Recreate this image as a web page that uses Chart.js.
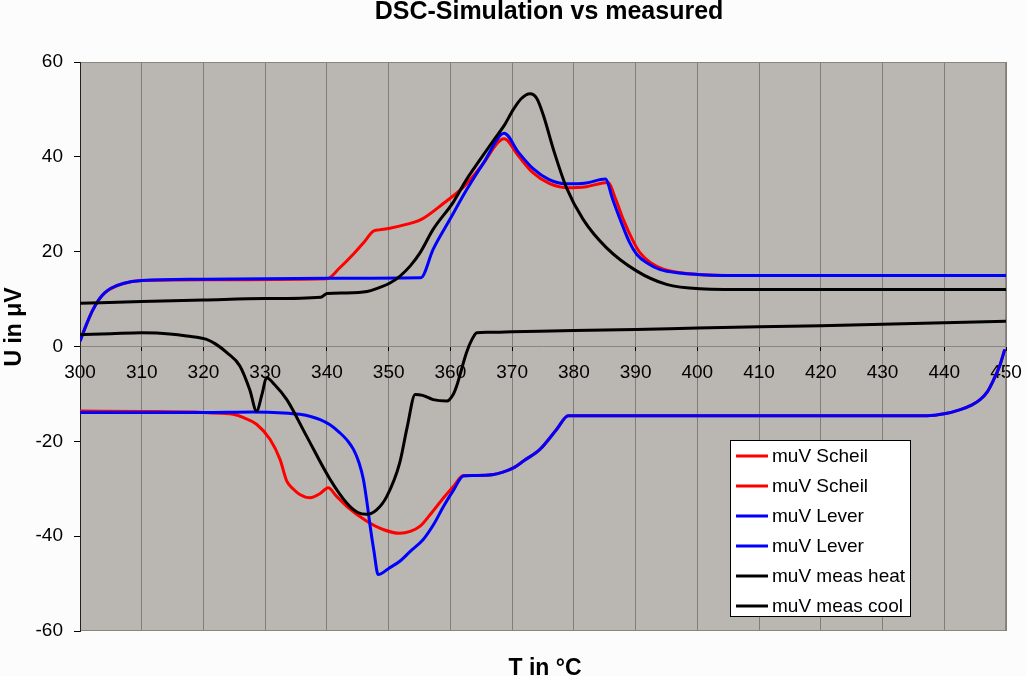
<!DOCTYPE html>
<html>
<head>
<meta charset="utf-8">
<script src="https://cdn.jsdelivr.net/npm/chart.js@4.4.1/dist/chart.umd.min.js"></script>
<style>
  html, body { margin: 0; padding: 0; background: #fcfcfc; }
  canvas { display: block; }
</style>
</head>
<body>
<canvas id="dsc" width="1026" height="676"></canvas>
<script>
// values: temperature (°C) and signal (µV) per series
const scheilHeatT = [300, 301, 302, 303, 304, 305, 307, 310, 320, 340, 342, 344.3, 346, 347.5, 348.5, 350, 353, 355.3, 358.9, 362.1, 365, 368.7, 371, 373.4, 376, 378.8, 382, 385.5, 386.8, 388, 389.5, 390.7, 392.5, 394.5, 397, 400, 405, 450];
const scheilHeatU = [1.1, 4.5, 7.5, 9.8, 11.3, 12.2, 13.3, 13.9, 14.1, 14.3, 16.5, 19.5, 22, 24.3, 24.6, 24.9, 25.8, 26.8, 30.2, 33.6, 38, 43.8, 40.2, 36.6, 34.4, 33.5, 33.7, 34.6, 31, 26.8, 22.5, 19.8, 17.6, 16.3, 15.6, 15.2, 15, 15];

const scheilCoolT = [300, 310, 320, 323, 324.8, 326.5, 328.6, 330.8, 332.4, 333.5, 334.5, 335.6, 337.3, 338.9, 340.2, 341.5, 343.2, 346.4, 349.1, 351.8, 353.5, 355.1, 357, 358.9, 360.5, 362.1, 363.7, 367, 368.5, 370.2, 372, 374.5, 377.2, 379.1, 385, 400, 420, 437.2, 440, 442.6, 444.5, 445.8, 447, 448, 449, 449.8];
const scheilCoolU = [-13.6, -13.7, -13.9, -14.1, -14.3, -15, -16.4, -19.6, -23.8, -28.4, -30, -31.2, -31.9, -31, -29.8, -31.5, -33.7, -36.8, -38.6, -39.4, -39, -37.9, -35, -31.9, -29.5, -27.2, -27.2, -27, -26.5, -25.6, -24, -21.7, -17.5, -14.6, -14.6, -14.6, -14.6, -14.6, -14.2, -13.3, -12.3, -11.2, -9.5, -7, -4, -0.6];

const leverHeatT = [300, 301, 302, 303, 304, 305, 307, 310, 320, 340, 355.2, 357.2, 360, 362.6, 365.5, 368.7, 371, 373.4, 376, 378.8, 382, 385.1, 386.3, 387.5, 389, 390.2, 392, 394, 397, 400, 405, 450];
const leverHeatU = [1.1, 4.5, 7.5, 9.8, 11.3, 12.3, 13.3, 13.9, 14.2, 14.4, 14.5, 20.5, 27, 33, 39, 45, 41, 37.5, 35.2, 34.3, 34.5, 35.3, 31, 26.8, 22, 19.4, 17.5, 16.2, 15.5, 15.2, 15, 15];

const leverCoolT = [300, 320, 328, 333, 335.6, 337.5, 338.9, 340.5, 342.1, 343.3, 344.3, 345.2, 345.9, 346.5, 347, 347.6, 348.3, 350, 351.8, 353.5, 355.6, 357.3, 358.9, 360.5, 362.1, 363.7, 367, 368.5, 370.2, 372, 374.5, 377.2, 379.1, 385, 400, 420, 437.2, 440, 442.6, 444.5, 445.8, 447, 448, 449, 449.8];
const leverCoolU = [-13.9, -13.9, -13.8, -14, -14.3, -14.8, -15.4, -16.5, -18.2, -19.8, -21.7, -24.5, -28, -33, -37.9, -43, -48.1, -46.8, -45.3, -43.2, -40.7, -37.5, -33.7, -30.3, -27.3, -27.2, -27, -26.5, -25.6, -24, -21.7, -17.5, -14.6, -14.6, -14.6, -14.6, -14.6, -14.2, -13.3, -12.3, -11.2, -9.5, -7, -4, -0.6];

const measHeatT = [300, 310, 320, 330, 339, 340, 343, 346.5, 348, 350.2, 351.8, 353.5, 355.1, 357.2, 360.5, 362.6, 364.8, 367, 368.8, 370.2, 371.5, 372.9, 374, 375.1, 376.7, 378.8, 381.5, 385.3, 390.2, 395, 400.4, 410, 450];
const measHeatU = [9.1, 9.5, 9.8, 10.1, 10.4, 11.2, 11.3, 11.6, 12.2, 13.4, 14.8, 17, 19.8, 24.7, 30.5, 35.2, 39.4, 43.5, 46.8, 50, 52.3, 53.3, 52.3, 48.6, 41.5, 33.5, 26.8, 20.8, 15.9, 13.1, 12.2, 12, 12];

const measCoolT = [300, 305, 310, 315, 317.3, 320.5, 322, 323.8, 325.9, 327.5, 328.6, 329.5, 330.2, 331.5, 333.5, 336.7, 340.5, 343.2, 345, 346.4, 348, 349.7, 351.8, 353, 354.3, 355.5, 357.2, 359.4, 360.5, 361, 362.6, 363.5, 364.3, 366, 370, 380, 390, 400, 420, 450];
const measCoolU = [2.5, 2.7, 2.9, 2.6, 2.2, 1.5, 0.5, -1.3, -4.1, -9.1, -13.6, -10, -6.6, -8, -11.2, -18.9, -28, -33, -35, -35.4, -34.5, -31.6, -24.5, -17, -10.1, -10.3, -11.2, -11.5, -10, -8.4, -1.3, 1.5, 2.9, 3, 3.1, 3.4, 3.6, 3.9, 4.4, 5.3];

const seriesLabels = ['muV Scheil', 'muV Scheil', 'muV Lever', 'muV Lever', 'muV meas heat', 'muV meas cool'];
const xTicks = { min: 300, max: 450, step: 10 };
const yTicks = { min: -60, max: 60, step: 20 };

function pts(t, u) {
  return t.map((x, i) => ({ x: x, y: u[i] }));
}

function line(label, data, color, order) {
  return {
    label: label,
    data: data,
    borderColor: color,
    backgroundColor: color,
    borderWidth: 3,
    pointRadius: 0,
    fill: false,
    cubicInterpolationMode: 'monotone',
    order: order
  };
}

// plot background, frame, floating legend and titles
const frame = {
  id: 'frame',
  beforeDraw(chart) {
    const { ctx, chartArea: a } = chart;
    ctx.save();
    ctx.fillStyle = '#bab6b1';
    ctx.fillRect(a.left, a.top, a.right - a.left, a.bottom - a.top);
    ctx.restore();
  },
  beforeDatasetsDraw(chart) {
    const { ctx, chartArea: a } = chart;
    ctx.save();
    ctx.strokeStyle = '#8a8580';
    ctx.lineWidth = 1;
    ctx.strokeRect(a.left + 0.5, a.top + 0.5, a.right - a.left - 1, a.bottom - a.top - 1);
    ctx.strokeStyle = '#222';
    ctx.beginPath();
    ctx.moveTo(a.left + 0.5, a.top);
    ctx.lineTo(a.left + 0.5, a.bottom);
    ctx.stroke();
    ctx.restore();
  },
  afterDraw(chart) {
    const ctx = chart.ctx;
    ctx.save();

    // legend box
    const lx = 730, ly = 440, lw = 181, lh = 177;
    ctx.fillStyle = '#fff';
    ctx.fillRect(lx, ly, lw, lh);
    ctx.strokeStyle = '#000';
    ctx.lineWidth = 1;
    ctx.strokeRect(lx + 0.5, ly + 0.5, lw - 1, lh - 1);
    ctx.font = '19px Arial, "Liberation Sans", sans-serif';
    ctx.textBaseline = 'middle';
    ctx.textAlign = 'left';
    chart.data.datasets.forEach((ds, i) => {
      const y = ly + 16 + i * 30;
      ctx.strokeStyle = ds.borderColor;
      ctx.lineWidth = 3;
      ctx.beginPath();
      ctx.moveTo(lx + 6, y);
      ctx.lineTo(lx + 38, y);
      ctx.stroke();
      ctx.fillStyle = '#000';
      ctx.fillText(ds.label, lx + 42, y + 1);
    });

    // titles
    ctx.fillStyle = '#000';
    ctx.textAlign = 'center';
    ctx.textBaseline = 'alphabetic';
    ctx.font = 'bold 25px Arial, "Liberation Sans", sans-serif';
    ctx.fillText('DSC-Simulation vs measured', 549, 19);
    ctx.font = 'bold 23px Arial, "Liberation Sans", sans-serif';
    ctx.fillText('T in °C', 545, 675);
    ctx.translate(21, 327);
    ctx.rotate(-Math.PI / 2);
    ctx.fillText('U in μV', 0, 0);
    ctx.restore();
  }
};

new Chart(document.getElementById('dsc'), {
  type: 'line',
  data: {
    datasets: [
      line(seriesLabels[0], pts(scheilHeatT, scheilHeatU), '#ff0000', 6),
      line(seriesLabels[1], pts(scheilCoolT, scheilCoolU), '#ff0000', 5),
      line(seriesLabels[2], pts(leverHeatT, leverHeatU), '#0000ff', 4),
      line(seriesLabels[3], pts(leverCoolT, leverCoolU), '#0000ff', 3),
      line(seriesLabels[4], pts(measHeatT, measHeatU), '#000000', 2),
      line(seriesLabels[5], pts(measCoolT, measCoolU), '#000000', 1)
    ]
  },
  options: {
    responsive: false,
    animation: false,
    devicePixelRatio: 1,
    layout: { padding: { top: 62, right: 20, bottom: 45, left: 0 } },
    plugins: {
      legend: { display: false },
      title: { display: false },
      tooltip: { enabled: false }
    },
    scales: {
      x: {
        type: 'linear',
        position: { y: 0 },
        min: xTicks.min,
        max: xTicks.max,
        afterFit(scale) { scale.paddingLeft = 0; scale.paddingRight = 0; },
        ticks: {
          stepSize: xTicks.step,
          color: '#000',
          font: { family: 'Arial, "Liberation Sans", sans-serif', size: 19 },
          padding: 11,
          maxRotation: 0
        },
        grid: { color: '#827d79', lineWidth: 1, tickLength: 4, tickColor: '#000' },
        border: { color: '#8a8580', width: 1 }
      },
      y: {
        type: 'linear',
        min: yTicks.min,
        max: yTicks.max,
        afterFit(scale) { scale.width = 80; },
        ticks: {
          stepSize: yTicks.step,
          color: '#000',
          font: { family: 'Arial, "Liberation Sans", sans-serif', size: 19 },
          padding: 11
        },
        grid: { drawOnChartArea: false, tickLength: 6, tickColor: '#000' },
        border: { color: '#222', width: 1 }
      }
    }
  },
  plugins: [frame]
});
</script>
</body>
</html>
